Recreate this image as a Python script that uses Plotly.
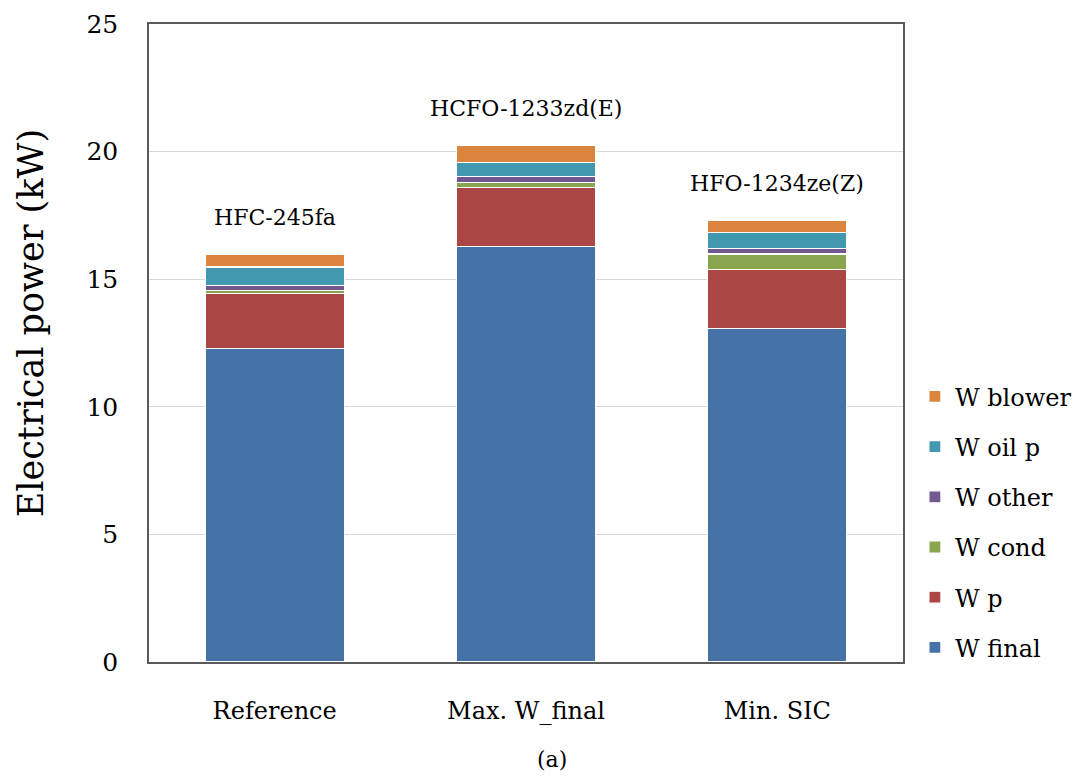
import plotly.graph_objects as go

categories = ["Reference", "Max. W_final", "Min. SIC"]
fluids = ["HFC-245fa", "HCFO-1233zd(E)", "HFO-1234ze(Z)"]

w_final = [12.30, 16.29, 13.08]
w_p = [2.15, 2.29, 2.30]
w_cond = [0.12, 0.21, 0.61]
w_other = [0.18, 0.22, 0.20]
w_oil_p = [0.73, 0.56, 0.65]
w_blower = [0.50, 0.68, 0.46]

series = [
    ("W final", w_final, "#4573A7"),
    ("W p", w_p, "#AA4643"),
    ("W cond", w_cond, "#89A54E"),
    ("W other", w_other, "#71588F"),
    ("W oil p", w_oil_p, "#4198AF"),
    ("W blower", w_blower, "#DB843D"),
]

FONT = "DejaVu Serif"

fig = go.Figure()
n = len(series)
for i, (name, vals, color) in enumerate(series):
    fig.add_trace(go.Bar(
        x=categories, y=vals, name=name, legendgroup=name, legendrank=n - i,
        marker=dict(color=color, line=dict(color="white", width=1.2)),
        width=0.553,
    ))

totals = [sum(v) for v in zip(w_final, w_p, w_cond, w_other, w_oil_p, w_blower)]
for cat, fl, tot in zip(categories, fluids, totals):
    fig.add_annotation(x=cat, y=tot, text=fl, showarrow=False, yshift=37,
                       yanchor="middle", font=dict(family=FONT, size=22, color="black"))

fig.add_annotation(x=0.535, y=0, xref="paper", yref="paper", text="(a)", showarrow=False,
                   yshift=-97, yanchor="middle", font=dict(family=FONT, size=22, color="black"))

fig.add_annotation(x=0, y=0.531, xref="paper", yref="paper", text="Electrical power (kW)",
                   showarrow=False, textangle=-90, xanchor="center", yanchor="middle",
                   xshift=-118, font=dict(family=FONT, size=35, color="black"))

fig.update_layout(
    barmode="stack",
    width=1077, height=776,
    margin=dict(l=149, r=174, t=24, b=114),
    paper_bgcolor="white", plot_bgcolor="white",
    font=dict(family=FONT, color="black"),
    legend=dict(xref="container", x=0.8495, xanchor="left", y=0.219, yanchor="middle",
                traceorder="grouped", tracegroupgap=16,
                font=dict(family=FONT, size=24, color="black"),
                itemwidth=30),
    xaxis=dict(showgrid=False, showline=True, linecolor="#5a5a5a", linewidth=1.5, mirror=True,
               ticks="", tickfont=dict(family=FONT, size=24, color="black"),
               ticklabelstandoff=26, range=[-0.5, 2.5], automargin=False),
    yaxis=dict(range=[0, 25], dtick=5, showgrid=True, gridcolor="#d9d9d9", gridwidth=1,
               showline=True, linecolor="#5a5a5a", linewidth=1.5, mirror=True,
               ticks="", tickfont=dict(family=FONT, size=25, color="black"),
               ticklabelstandoff=24, zeroline=False, automargin=False),
)

fig.write_html("out.html", config={"displayModeBar": False},
               post_script="document.body.style.margin='0';")
